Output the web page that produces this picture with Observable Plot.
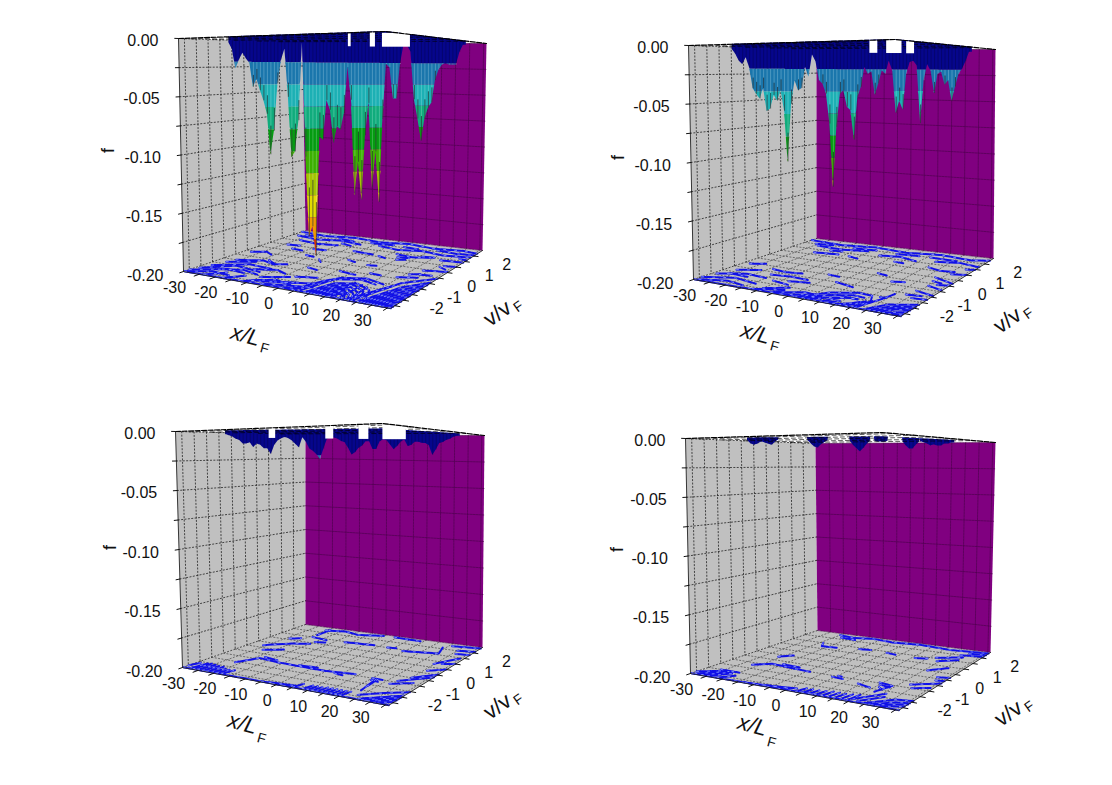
<!DOCTYPE html>
<html lang="en">
<head>
<meta charset="UTF-8">
<title>f(x, v) surfaces</title>
<script src="https://cdn.jsdelivr.net/npm/d3@7"></script>
<script src="https://cdn.jsdelivr.net/npm/@observablehq/plot@0.6"></script>
<style>
  html, body { margin: 0; background: #fff; }
  #chart svg { display: block; background: #fff; }
</style>
</head>
<body>
<div id="chart"></div>
<script>
// tick values
const fLabels = [0, -0.05, -0.10, -0.15, -0.20];
const fGrid = [0, -0.025, -0.05, -0.075, -0.10, -0.125, -0.15, -0.175, -0.20];
const xLabels = [-30, -20, -10, 0, 10, 20, 30];
const xGrid = [-25, -20, -15, -10, -5, 0, 5, 10, 15, 20, 25, 30, 35];
const vLabels = [-2, -1, 0, 1, 2];
const vGrid = [-2.5, -2, -1.5, -1, -0.5, 0, 0.5, 1, 1.5, 2];
const vHatch = [-2.2, -1.3, -0.4, 0.6, 1.5];

// colour bands of the surface, one per 0.02 of f
const bandLevels = [0, -0.02, -0.04, -0.06, -0.08, -0.10, -0.12, -0.14, -0.16, -0.18];
const bandColors = ["#06068c", "#1a76ac", "#1cb0b4", "#10ac7c", "#049c10", "#3cb000", "#a4c400", "#e2dc00", "#f09a00", "#d83000"];

const depth1 = [-.003,-.009,-.026,-.018,-.012,-.017,-.021,-.042,-.035,-.045,-.054,-.066,-.102,-.081,-.039,-.018,-.008,-.051,-.105,-.100,-.072,-.002,-.105,-.177,-.168,-.195,-.087,-.090,-.054,-.063,-.093,-.078,-.081,-.066,-.024,-.054,-.141,-.111,-.146,-.087,-.057,-.135,-.102,-.149,-.072,-.021,-.024,-.053,-.053,-.021,-.003,-.003,-.009,-.054,-.072,-.093,-.072,-.062,-.057,-.036,-.026,-.021,-.020,-.021,-.021,-.021,-.009,-.002];
const depth2 = [-.003,-.007,-.013,-.016,-.010,-.019,-.037,-.042,-.046,-.037,-.057,-.055,-.043,-.048,-.039,-.057,-.102,-.051,-.030,-.039,-.037,-.018,-.027,-.007,-.013,-.030,-.033,-.042,-.069,-.126,-.072,-.042,-.039,-.054,-.057,-.084,-.045,-.036,-.018,-.024,-.022,-.043,-.033,-.021,-.024,-.012,-.021,-.060,-.049,-.057,-.024,-.013,-.012,-.016,-.070,-.030,-.015,-.021,-.042,-.024,-.022,-.034,-.030,-.049,-.036,-.024,-.019,-.012,-.003];
const depth3 = [-.002,-.003,-.004,-.006,-.007,-.010,-.010,-.009,-.013,-.010,-.011,-.014,-.014,-.019,-.011,-.007,-.005,-.004,-.005,-.007,-.010,-.013,-.004,-.008,-.014,-.016,-.019,-.023,-.014,-.005,-.004,-.004,-.005,-.007,-.008,-.013,-.019,-.017,-.013,-.011,-.007,-.007,-.014,-.014,-.007,-.005,-.006,-.010,-.014,-.011,-.007,-.005,-.011,-.010,-.007,-.007,-.008,-.008,-.010,-.019,-.014,-.008,-.007,-.005,-.004,-.002,-.001];
const depth4 = [-.001,-.004,-.005,-.004,-.002,-.003,-.004,-.005,-.002,0,0,0,0,0,0,0,0,0,-.003,-.006,-.007,-.004,-.002,0,0,0,0,0,0,0,-.004,-.007,-.010,-.007,-.003,0,0,-.001,-.001,-.001,0,0,0,0,0,-.004,-.007,-.007,-.003,0,-.001,-.002,-.004,-.003,-.004,-.004,-.002,-.002,-.001];

// where each series of columns starts, in x/L
const depthStart = [-19.2, -20.6, -19.3, -16.8];

// white gaps at the top of the surface, pairs of x/L
const holes1 = [[6.4, 7], [11.1, 12.2], [13.7, 19.7]];
const holes2 = [[9, 10.7], [12.6, 15.9], [16.9, 18.6]];
const holes3 = [[-10, -8.6], [2.1, 3.8], [9.2, 11.3], [14.3, 19.3]];
const holes4 = [];

// contours on the floor, each one x,v,x,v,...
const floor1 = [
  [-30,2.35,-20,2.2,-10,2.35,0,2.2,10,2.35,20,2.2,30,2.3,36,2.2],
  [-28,1.95,-20,1.8,-12,1.95,-4,1.8],[-24,1.55,-17,1.4,-10,1.5],
  [2,1.9,10,1.75,18,1.9,26,1.75,36,1.85],[12,1.4,18,1.3,24,1.45],[28,1.35,36,1.4],
  [-26,2.05,-22,2.1],[-14,2.1,-8,2],[-2,2.05,6,2.1],[10,2.05,16,2],[22,2.1,30,2],[-10,1.7,-6,1.6],
  [-2,1.2,6,1.1],[8,1.05,11,.95],[14,1.15,18,1.2],[15,.95,18,1.05],[21,1.45,25,1.5],[31,.85,34,.7],[28,.4,36,.55],
  [32,.95,36,1],[33,1.65,36,1.6],[30,2.02,36,2.05],[29,.05,33,.1],[26,-.05,29,.1],
  [-28,-.1,-24,.1,-21,-.1],[-18,-.6,-14,-.85,-11,-.7],[-20,.7,-16,.65],[-12,.3,-9,.25],[-24,1,-20,1.05],[-14,.9,-10,.95],
  [-6,.1,-4,-.1],[6,-.6,12,-.7],[15,-.4,19,-.45],[24,-.4,30,-.2],[-4,-.7,0,-.8],[2,.4,5,.3],[10,.2,13,.25],
  [-30,-2.5,-22,-1.9,-16,-2],[-29,-2.2,-22,-1.5,-13,-1.7],[-28,-1.8,-20,-1.2,-12,-1.3],[-27,-1.3,-20,-.9],
  [-30,-2.7,-24,-2.3,-18,-2.4],[-26,-1,-19,-.7,-14,-.9],[-24,-2.05,-18,-1.75,-12,-1.95],[-16,-1.55,-10,-1.3,-6,-1.5],[-10,-2.5,-5,-2.1,1,-2.3],
  [-24,-2.7,-20,-2.2],[-18,-2.7,-14,-2.2],[-12,-2.7,-8,-2.3],
  [-6,-2.6,8,-2.2],[-4,-2.3,6,-1.9],[-10,-2.1,-3,-1.7],[-2,-1.6,4,-1.4],[-8,-2.45,2,-2.05],[0,-2.65,6,-2.4],
  [4,-2.7,7,-1.6,10,-1.1,17,-.85,24,-1.1],
  [8,-2.7,11,-1.6,17,-1.35,23,-1.7,27,-2.7],[9,-2.7,12,-1.75,17,-1.52,22,-1.85,25.5,-2.7],[10,-2.7,13,-1.9,17,-1.7,21,-2,24,-2.7],
  [11,-2.7,13.8,-2.05,17,-1.88,20.5,-2.15,23,-2.7],[12,-2.7,14.5,-2.2,17,-2.05,20,-2.3,22,-2.7],[13,-2.7,15.2,-2.3,18,-2.2,21,-2.7],
  [14,-2.7,16,-2.4,18,-2.35,20,-2.7],[15.5,-2.7,17,-2.5,18.5,-2.7],
  [6,-2.7,9,-1.3,16,-1,22,-1.2],[13,-2.7,13.4,-1.5],[16,-2.7,16,-1.3],[19,-2.7,18.8,-1.4],[22,-2.7,21,-1.5],
  [21,-2.7,24,-1.9,27,-1.1],[23,-2.7,28,-.8,36,-.05],[25,-2.7,30,-1.1,36,-.4],[26,-2.7,30.5,-1.35,36,-.65],[27,-2.7,31,-1.6,36,-.9],[28,-2.7,31.5,-1.8,36,-1.15],
  [29,-2.7,32,-2,36,-1.4],[30,-2.7,33,-2.1,36,-1.65],[31,-2.7,33.5,-2.2,36,-1.9],[32,-2.7,34,-2.35,36,-2.15],[33,-2.7,36,-2.4],[35,-2.72,36,-2.6],
  [-30,-2.72,-15,-2.7,0,-2.65,15,-2.72,36,-2.72]
];
const floor2 = [
  [-30,2.3,-18,2.15,-6,2.3,6,2.15,18,2.3,30,2.15,36,2.3],[-26,2,-20,2.05],[-12,2,-4,2.05],[4,1.95,12,2],[16,2,26,1.95],
  [-24,1.85,-14,1.75,-6,1.9],[0,1.65,7,1.75,14,1.55],[20,1.7,28,1.85,36,1.7],[-20,1.2,-12,1.3],[-8,1.25,-4,1.15],[-17,1.55,-13,1.6],[8,1.3,12,1.25],
  [21,1.2,26,1.05,31,1.1],[28,.5,36,.2],[30,-.2,36,-.4],[29,-.7,36,-.9],[31,.9,36,1],[33,1.4,36,1.45],[29,.2,33,.1],[32,-.05,36,.05],[28,-1.1,33,-1.05],[31,-1.3,36,-1.25],
  [-29,-1.9,-22,-1.5,-15,-1.6],[-30,-2.4,-22,-2,-14,-2.2],[-27,-1.3,-21,-1],[-28,-.6,-24,-.4],[-29,-2.65,-22,-2.35,-16,-2.5],[-26,-1.7,-20,-1.75],
  [-19,-.75,-14,-.85,-9,-.75],[-16,-1.25,-10,-1.15,-4,-1.2],[-8,-1.55,-2,-1.4],[4,-1,11,-1.2],[-12,-1.7,-6,-1.85],[-2,-.5,2,-.55],[10,.2,14,.1],[18,-.3,22,-.2],
  [-12,-2.65,-4,-2.3],[-6,-2.65,2,-2.2,8,-2.3],[-3,-2.7,3,-2.4,9,-2.5],[-10,-2.45,-4,-2.05],
  [2,-2.7,8,-1.9,15,-1.55,20,-1.6,22,-2],[4,-2.7,9,-2.1,15,-1.8,19,-1.85],[6,-2.7,10,-2.3,15,-2.05,18,-2.05],
  [10,-2.7,14,-2.05,18,-2.05],[12,-2.7,14.5,-2.4],[14,-2.7,18,-2.5],[16,-2.7,20,-2.2],[18,-2.7,21,-2.1],[20,-2.7,22.5,-2],[21,-2.7,24,-1.7,25,-1.2],[22.5,-1.6,24.5,-1.6],
  [24,-2.7,28,-2.05,36,-1.7],[25.5,-2.7,29.5,-2.15,36,-1.88],[27,-2.7,31,-2.2,36,-2.05],[28.5,-2.7,32,-2.3,36,-2.2],[30,-2.7,36,-2.35],[32,-2.72,36,-2.55],
  [-30,-2.72,-15,-2.7,0,-2.65,15,-2.72,36,-2.72]
];
const floor3 = [
  [-21.7,-1.58,-18.5,-.9,-12,-1,4.3,-1.05,13.8,-.91],[-18,-.75,-13,-.85],[-5,-.95,1,-.9],[8,-1.1,11,-1.15],
  [-19,1.5,-13,1.4],[-7,1.45,3.3,1.55],[14.2,1.4,26,1.6,24,2.1],[-19,2.3,-19,1.7],[-15,1.1,-12,1.2],[8,1.5,11,1.55],
  [21.5,-1.03,22.8,-2.03],[22,-1,22.4,-1.6],[20,-1,23.5,-1],[20.5,-1.15,23.2,-1.2],[27.8,-.9,36,-.2],[27,-1.2,33,-.85],[29.6,.77,34.7,1.45],[31,.2,36,.5],[32,.85,36,1],[30,-.5,36,.05],
  [-20,2.2,-14,2.35,-8,2.2,0,2.4],[4,2.4,14,2.35],[26,2.3,36,2.4],[30,2,36,2.1],[31,1.75,36,1.8],
  [-30,-2.5,-29,-2.1],[-28,-2.7,-27,-2.05],[-27,-2.7,-26,-2],[-25.5,-2.7,-24.5,-2.05],[-24,-2.7,-23,-2.1],[-22.5,-2.7,-21.5,-2.1],[-21,-2.7,-20,-2.2],[-19.5,-2.7,-18.5,-2.25],[-18,-2.7,-17,-2.2],
  [-26,.2,-20,.7,-15,.9],[-23,-.2,-18,.1],[-24,1.1,-21,1.25],
  [-5,-2.7,5,-2.7],[-3,-2.65,5,-2.55],[5,-2.7,6,-2.3],[8,-2.7,9,-2.3],[9.5,-2.7,10.5,-2.3],[11,-2.7,12,-2.3],[12.5,-2.7,13.5,-2.25],[14,-2.7,15,-2.25],[15.5,-2.7,16.5,-2.25],[17,-2.7,18,-2.25],[18.5,-2.7,19.5,-2.25],[20,-2.7,21,-2.25],
  [25.8,-2.66,36,-1.85],[27,-2.7,36,-2.05],[28,-2.7,36,-2.18],[29,-2.7,36,-2.3],[31,-2.72,36,-2.45],[24,-2.4,30,-1.9,36,-1.55],
  [-30,-2.72,-15,-2.7,5,-2.7,36,-2.72]
];
const floor4 = [
  [-22,-1.2,-18,-.85,-10,-.95,-4,-1],[-15,-.75,-9,-.8],[4,-1.1,8,-1.15],[5,-.95,7,-1],[14,-1.3,19,-1.45],
  [-19,1.5,-17,1.2,-12,1.25],[-5,1.4,-1,1.45],[5,1.4,9,1.35],[16,1.3,20,1.4],[22,1.55,30,1.85],[24,1.3,30,1.6],[-21,-.2,-18,.1],
  [19,-.95,24,-1.05,22,-1.7],[20,-1.1,24,-1.2],[21,-1.3,23,-1.45],[28,-.75,36,-.3],[26,.5,31,.9],[30,-1,35,-.75],[32,.1,36,.2],[33,-.15,36,-.1],
  [-20,2.35,-14,2.25,-8,2.4,0,2.3,10,2.4,22,2.3,36,2.4],[-18,2.15,-12,2.1],[28,2,36,2.1],[30,2.2,36,2.25],
  [-30,-2.5,-25,-2.1],[-29,-2.7,-23,-2.05],[-27,-2.7,-22,-2.1],[-25,-2.7,-21,-2.15],[-22,-2.7,-19,-2.3],[-26,-2,-20,-2],
  [-14,-2.7,0,-2.55],[-8,-2.65,2,-2.45],[3,-2.7,4,-2.3],[5,-2.7,6,-2.3],[7,-2.7,8,-2.3],[9,-2.7,10,-2.25],[11,-2.7,12,-2.2],[13,-2.7,14,-2.2],[15,-2.7,16,-2.2],[17,-2.7,18,-2.15],[19,-2.7,20,-2.1],
  [24,-2.7,31,-2,36,-1.9],[26,-2.7,32,-2.2,36,-2.1],[27,-2.7,36,-2.2],[29,-2.7,36,-2.4],[20,-2.5,26,-1.7],[22,-2.6,27,-1.95],
  [-30,-2.72,-15,-2.7,5,-2.68,36,-2.72]
];

// screen frame of each box and where its text sits
const xDomain = [-30, 36], vDomain = [-2.75, 2.5], columnStep = 0.75;
const panels = [
  {top: {L: [178, 38], F: [385, 31], R: [486, 43], B: [302, 42]}, floor: {L: [183, 271], F: [390, 308], R: [482, 250], B: [305, 230]},
   depth: depth1, start: depthStart[0], holes: holes1, contours: floor1, lift: 1,
   fTitle: [108, 150], xTitle: [245, 335], xSub: [264, 348], vTitle: [497, 313], vSub: [518, 306]},
  {top: {L: [688, 45], F: [895, 39], R: [995, 49], B: [816, 49]}, floor: {L: [693, 279], F: [900, 316], R: [993, 258], B: [816, 238]},
   depth: depth2, start: depthStart[1], holes: holes2, contours: floor2, lift: 1,
   fTitle: [618, 157], xTitle: [755, 333], xSub: [774, 346], vTitle: [1007, 320], vSub: [1028, 313]},
  {top: {L: [175, 431], F: [382, 423], R: [484, 435], B: [305, 434]}, floor: {L: [182, 667], F: [388, 705], R: [482, 647], B: [305, 624]},
   depth: depth3, start: depthStart[2], holes: holes3, contours: floor3, lift: 0.5,
   fTitle: [110, 547], xTitle: [242, 723], xSub: [261, 738], vTitle: [497, 706], vSub: [518, 699]},
  {top: {L: [685, 438], F: [882, 432], R: [995, 442], B: [815, 443]}, floor: {L: [690, 673], F: [898, 710], R: [990, 652], B: [817, 630]},
   depth: depth4, start: depthStart[3], holes: holes4, contours: floor4, lift: 0.5,
   fTitle: [617, 549], xTitle: [752, 725], xSub: [771, 742], vTitle: [1008, 713], vSub: [1029, 706]}
];

const lerp = (a, b, t) => a + (b - a) * t;
const quad = (c, u, w, i) => lerp(lerp(c.L[i], c.F[i], u), lerp(c.B[i], c.R[i], u), w);

// x/L, v/vF, f to page position
function project(p, x, v, f) {
  const u = (x - xDomain[0]) / (xDomain[1] - xDomain[0]);
  const w = (v - vDomain[0]) / (vDomain[1] - vDomain[0]);
  const h = -f / 0.2;
  return [lerp(quad(p.top, u, w, 0), quad(p.floor, u, w, 0), h), lerp(quad(p.top, u, w, 1), quad(p.floor, u, w, 1), h)];
}

// the curtain seen from the left corner to the right corner
function curtain(p, c, f) {
  const t = (c - xDomain[0]) / (xDomain[1] - xDomain[0]);
  const px = lerp(p.top.L[0], p.top.R[0], t);
  const y0 = lerp(p.top.L[1], p.top.R[1], t);
  const y1 = lerp(p.floor.L[1], p.floor.R[1], t);
  return [px, lerp(y0, y1, -f / 0.2)];
}
function outlineY(p, px) {
  const {L, F, R} = p.top;
  return px < F[0] ? lerp(L[1], F[1], (px - L[0]) / (F[0] - L[0])) : lerp(F[1], R[1], (px - F[0]) / (R[0] - F[0]));
}

const [xMin, xMax] = xDomain, [vMin, vMax] = vDomain, fMin = -0.2;
const faces = [], gridLeft = [], gridRight = [], gridFloor = [], hatch = [], rim = [], edges = [], ticks = [];
const blue = [], bands = [], seams = [], seamsTop = [], tips = [], gaps = [];
const textRows = {f: [], x: [], v: [], fTitle: [], xTitle: [], xSub: [], vTitle: [], vSub: []};
let n = 0;
const add = (arr, p, pts, extra) => { const id = n++; pts.forEach(q => { const [px, py] = project(p, q[0], q[1], q[2]); arr.push({px, py, id, ...extra}); }); };

panels.forEach((p, pi) => {
  add(faces, p, [[xMin, vMin, 0], [xMin, vMax, 0], [xMin, vMax, fMin], [xMin, vMin, fMin]], {color: "#c0c0c0"});
  add(faces, p, [[xMin, vMax, 0], [xMax, vMax, 0], [xMax, vMax, fMin], [xMin, vMax, fMin]], {color: "#800080"});
  add(faces, p, [[xMin, vMin, fMin], [xMax, vMin, fMin], [xMax, vMax, fMin], [xMin, vMax, fMin]], {color: "#c0c0c0"});

  fGrid.forEach(f => {
    add(gridLeft, p, [[xMin, vMin, f], [xMin, vMax, f]]);
    add(gridRight, p, [[xMin, vMax, f], [xMax, vMax, f]]);
    add(ticks, p, [[xMin, vMin, f], [xMin, vMin - 0.16, f]]);
  });
  vGrid.forEach(v => {
    add(gridLeft, p, [[xMin, v, 0], [xMin, v, fMin]]);
    add(gridFloor, p, [[xMin, v, fMin], [xMax, v, fMin]]);
    add(ticks, p, [[xMax, v, fMin], [xMax + 1.6, v, fMin]]);
  });
  xGrid.forEach(x => {
    add(gridRight, p, [[x, vMax, 0], [x, vMax, fMin]]);
    add(gridFloor, p, [[x, vMin, fMin], [x, vMax, fMin]]);
    add(ticks, p, [[x, vMin, fMin], [x, vMin - 0.22, fMin]]);
  });
  vHatch.forEach(v => add(hatch, p, [[xMin, v, 0], [xMax, v, 0]]));
  add(edges, p, [[xMin, vMin, 0], [xMin, vMin, fMin], [xMax, vMin, fMin], [xMax, vMax, fMin]]);
  add(rim, p, [[xMin, vMin, 0], [xMax, vMin, 0], [xMax, vMax, 0]]);

  p.contours.forEach(c => add(blue, p, d3.range(0, c.length, 2).map(i => [c[i], c[i + 1], fMin])));

  // each band is cut out of the straight edge between two columns
  const cuts = 6;
  p.depth.forEach((d, i) => {
    const c = p.start + i * columnStep;
    const next = i + 1 < p.depth.length ? p.depth[i + 1] : d;
    d3.range(cuts).forEach(s => {
      const k = s / cuts, fk = lerp(d, next, k), ck = c + k * columnStep;
      const xk = curtain(p, ck, 0)[0];
      const topk = lerp(curtain(p, ck, 0)[1], outlineY(p, xk), p.lift);
      bandLevels.forEach((lv, b) => {
        const y1 = b === 0 ? topk : curtain(p, ck, lv)[1];
        const y2 = fk >= lv ? y1 : curtain(p, ck, Math.max(fk, lv - 0.02))[1];
        bands.push({x: xk, y1, y2, color: bandColors[b], key: pi + "-" + b});
      });
    });
    const xm = curtain(p, c, 0)[0];
    const top = lerp(curtain(p, c, 0)[1], outlineY(p, xm), p.lift);
    const yEnd = curtain(p, c, d)[1];
    if (d < 0) seamsTop.push({x: xm, y1: top, y2: curtain(p, c, Math.max(d, -0.02))[1]});
    if (d < -0.02) seams.push({x: xm, y1: curtain(p, c, -0.02)[1], y2: yEnd});
    if (d < -0.03) tips.push({x: xm, y1: curtain(p, c, d * 0.75)[1], y2: yEnd});
  });
  p.holes.forEach(([a, b]) => {
    const xa = curtain(p, a, 0)[0], xb = curtain(p, b, 0)[0];
    gaps.push({x1: xa, x2: xb, y1: outlineY(p, (xa + xb) / 2) + 0.5, y2: curtain(p, a, -0.005)[1]});
  });

  fLabels.forEach(f => { const [x, y] = project(p, xMin, vMin, f); textRows.f.push({x: x - 20, y: y + 2 + 2 * -f / 0.2, t: f.toFixed(2)}); });
  xLabels.forEach(l => { const [x, y] = project(p, l, vMin, fMin); textRows.x.push({x: x - 9, y: y + 16, t: String(l)}); });
  vLabels.forEach(l => { const [x, y] = project(p, xMax, l, fMin); textRows.v.push({x: x + 33, y: y + 9, t: String(l)}); });
  textRows.fTitle.push({x: p.fTitle[0], y: p.fTitle[1], t: "f"});
  textRows.xTitle.push({x: p.xTitle[0], y: p.xTitle[1], t: "x/L"});
  textRows.xSub.push({x: p.xSub[0], y: p.xSub[1], t: "F"});
  textRows.vTitle.push({x: p.vTitle[0], y: p.vTitle[1], t: "v/v"});
  textRows.vSub.push({x: p.vSub[0], y: p.vSub[1], t: "F"});
});

const path = (rows, o) => Plot.line(rows, {x: "px", y: "py", z: "id", curve: "linear", ...o});
const font = "Liberation Sans, Arial, sans-serif";
const label = (rows, o) => Plot.text(rows, {x: "x", y: "y", text: "t", fontFamily: font, fill: "#111", ...o});

const chart = Plot.plot({
  width: 1112,
  height: 785,
  margin: 0,
  style: {background: "#fff"},
  x: {domain: [0, 1112], range: [0, 1112], axis: null},
  y: {domain: [0, 785], range: [0, 785], axis: null},
  marks: [
    path(faces, {fill: "color", stroke: "none"}),
    path(gridLeft, {stroke: "#222", strokeWidth: 0.8, strokeDasharray: "1.2 2.2"}),
    path(gridFloor, {stroke: "#444", strokeWidth: 0.7, strokeDasharray: "1.2 2.2"}),
    path(gridRight, {stroke: "#4a004a", strokeWidth: 0.8, strokeDasharray: "2 1", strokeOpacity: 0.8}),
    path(blue, {stroke: "#1010e8", strokeWidth: 2, strokeDasharray: "4 1.2", strokeLinejoin: "round"}),
    path(blue, {stroke: "#a8bcff", strokeWidth: 0.7, strokeDasharray: "2 9"}),
    Plot.area(bands, {x1: "x", y1: "y1", y2: "y2", z: "key", fill: "color", curve: "linear"}),
    Plot.ruleX(seamsTop, {x: "x", y1: "y1", y2: "y2", stroke: "#000", strokeOpacity: 0.3, strokeWidth: 0.7}),
    Plot.ruleX(seams, {x: "x", y1: "y1", y2: "y2", stroke: "#e8ffff", strokeOpacity: 0.35, strokeWidth: 0.7}),
    Plot.ruleX(tips, {x: "x", y1: "y1", y2: "y2", stroke: "#000", strokeOpacity: 0.6, strokeWidth: 0.9}),
    path(hatch, {stroke: "#000", strokeWidth: 0.9, strokeDasharray: "4 3", strokeOpacity: 0.7}),
    Plot.rect(gaps, {x1: "x1", x2: "x2", y1: "y1", y2: "y2", fill: "#fff", inset: 0}),
    path(rim, {stroke: "#000", strokeWidth: 1.2, strokeDasharray: "5 1.5"}),
    path(edges, {stroke: "#222", strokeWidth: 0.9}),
    path(ticks, {stroke: "#111", strokeWidth: 1}),
    label(textRows.f, {textAnchor: "end", fontSize: 16}),
    label(textRows.x, {fontSize: 16}),
    label(textRows.v, {fontSize: 16}),
    label(textRows.fTitle, {fontSize: 18, rotate: -90}),
    label(textRows.xTitle, {fontSize: 22, fontStyle: "italic", rotate: 15}),
    label(textRows.xSub, {fontSize: 14, rotate: 15}),
    label(textRows.vTitle, {fontSize: 22, rotate: -35}),
    label(textRows.vSub, {fontSize: 14, rotate: -35})
  ]
});
document.querySelector("#chart").append(chart);
</script>
</body>
</html>
